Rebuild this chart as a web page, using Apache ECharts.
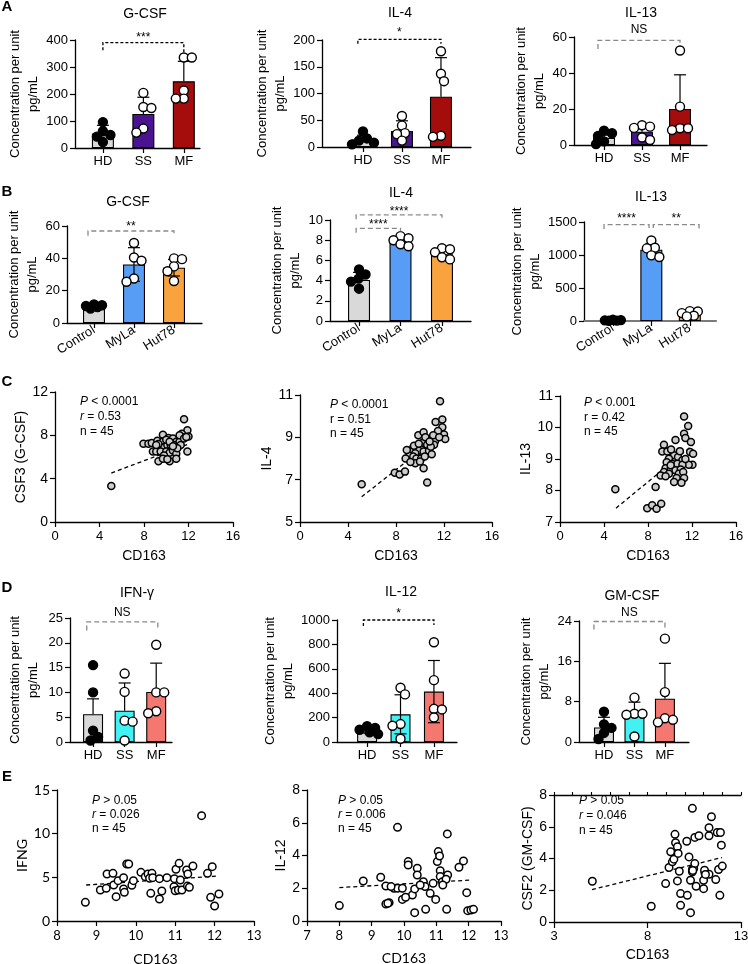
<!DOCTYPE html>
<html><head><meta charset="utf-8">
<script src="https://cdn.jsdelivr.net/npm/echarts@6/dist/echarts.min.js"></script>
<style>html,body{margin:0;padding:0;background:#fff}#c{width:748px;height:964px}</style>
</head><body><div id="c"></div>
<script>
// ================= DATA =================
// Row A (HD / SS / MF)
const aGroups = ['HD', 'SS', 'MF'];
const a1Mean = [54, 126, 247], a1Err = [30, 62, 74];
const a1Pts = [[96, 62, 48, 42, 22], [204, 152, 148, 72, 57], [335, 335, 213, 183, 183]];
const a2Mean = [14, 30, 94], a2Err = [8, 19, 73];
const a2Pts = [[29, 16, 12, 8, 5], [58, 40, 26, 24, 12], [179, 137, 123, 21, 19]];
const a3Mean = [4, 7.4, 20], a3Err = [1.5, 3.6, 19];
const a3Pts = [[8, 6.5, 5, 2, 0.5], [11, 10.2, 9.5, 4.2, 2.8], [52.5, 21.3, 9.3, 9.3, 8.3]];
// significance brackets: [x1, x2, yTop, yLeg1, yLeg2, label, yLabel]
const a1Sig = [[0, 2, 390, 362, 352, '***', 420]];
const a2Sig = [[-0.13, 2, 201, 193, 193, '*', 220]];
const a3Sig = [[-0.16, 2, 58.1, 53.3, 55.7, 'NS', 64]];

// Row B (cell lines)
const bGroups = ['Control', 'MyLa', 'Hut78'];
const b1Mean = [10.3, 36.2, 34.2], b1Err = [0.8, 10.4, 5.1];
const b1Pts = [[11.5, 11, 10.5, 9.8, 8.9], [49.5, 40.5, 38.5, 27.5, 25.5], [40, 39.5, 35, 32, 26]];
const b2Mean = [4.06, 7.9, 6.6], b2Err = [0.75, 0.35, 0.45];
const b2Pts = [[5.1, 4.6, 4.2, 3.9, 3.2], [8.4, 8.2, 8.0, 7.6, 7.4], [7.2, 7.1, 6.8, 6.3, 6.1]];
const b3Mean = [10, 1080, 110], b3Err = [3, 95, 40];
const b3Pts = [[18, 14, 10, 6, 3], [1220, 1110, 1100, 995, 970], [150, 145, 120, 80, 70]];
const b1Sig = [[-0.15, 2, 56.9, 54, 54.4, '**', 61.5]];
const b2Sig = [[-0.07, 1, 9.17, 8.75, 8.85, '****', 9.8], [-0.07, 2, 10.5, 10.07, 10.07, '****', 11.15]];
const b3Sig = [[-0.23, 0.94, 1459, 1393, 1409, '****', 1590], [1.05, 2.24, 1459, 1409, 1393, '**', 1590]];

// Row C (correlations with CD163)
const c1Pts = [[5.06,3.32],[11.6,9.48],[11.9,8.46],[11.4,8.15],[12.0,7.9],[11.4,7.85],[11.9,6.5],[7.95,7.23],[8.4,7.23],[8.7,7.3],[9.2,7.5],[9.7,8.06],[10.2,7.75],[10.6,7.7],[10.9,7.4],[9.7,7.4],[9.5,6.9],[9.8,6.9],[10.1,7.1],[10.4,7.1],[10.7,7.1],[11.2,7.4],[11.3,7.1],[8.8,6.5],[9.1,6.5],[9.5,6.5],[10.0,6.5],[10.3,6.4],[10.6,6.6],[10.9,6.3],[9.8,6.15],[9.3,5.6],[10.3,5.6],[9.7,5.85],[10.9,5.85],[11.0,6.8],[10.0,7.6],[10.3,7.4],[9.3,7.2],[11.2,8.0],[11.6,7.7],[10.6,7.0],[10.1,5.8],[9.1,7.1],[11.8,7.85]];
const c1Fit = [[5.06, 4.52], [12.0, 7.2]];
const c2Pts = [[5.14,6.78],[11.67,10.71],[11.3,9.73],[11.86,9.84],[11.86,9.48],[12.0,9.13],[12.1,8.92],[9.86,9.1],[10.3,9.24],[10.6,8.92],[11.0,8.92],[11.25,8.81],[11.17,8.65],[10.2,8.73],[10.6,8.65],[9.44,8.52],[9.9,8.37],[10.3,8.33],[10.75,8.37],[10.98,8.2],[9.2,8.33],[9.6,8.25],[9.1,8.13],[9.44,8.1],[8.8,8.0],[9.7,8.0],[10.1,8.0],[9.6,7.78],[10.0,7.86],[9.2,7.83],[10.3,7.54],[7.9,7.33],[8.3,7.25],[8.75,7.38],[10.6,6.87],[8.9,8.4],[10.45,9.0],[11.5,9.3],[10.9,8.55],[9.5,8.6],[11.1,9.1],[10.4,8.1],[9.9,8.7],[10.8,8.8],[11.6,9.0]];
const c2Fit = [[5.14, 6.19], [12.1, 9.3]];
const c3Pts = [[5.03,8.04],[7.93,7.44],[8.38,7.53],[8.78,7.42],[9.2,7.58],[8.69,8.11],[11.28,10.35],[11.65,10.05],[11.28,9.8],[11.4,9.67],[11.9,9.54],[10.5,9.6],[9.45,9.45],[9.3,9.24],[9.76,9.24],[11.83,9.22],[12.1,9.17],[12.04,8.82],[11.7,8.82],[10.37,9.12],[9.9,9.01],[10.73,9.06],[11.13,8.96],[9.7,8.9],[10.2,8.85],[10.67,8.85],[11.13,8.82],[9.6,8.71],[10.06,8.69],[10.5,8.64],[10.97,8.67],[9.45,8.59],[9.15,8.48],[9.9,8.53],[10.8,8.53],[11.2,8.59],[10.6,8.4],[11.28,8.4],[9.6,8.45],[10.37,8.27],[11.04,8.25],[10.06,8.8],[11.4,9.0],[10.1,9.3],[10.9,9.25]];
const c3Fit = [[5.09, 7.44], [12.1, 9.45]];

// Row D (HD / SS / MF)
const d1Mean = [5.6, 6.3, 10.1], d1Err = [3.1, 5.6, 5.8];
const d1Pts = [[15.5, 10, 2.3, 1, 0.3], [13.8, 10.1, 4.3, 4.1, 0.3], [19.6, 10, 10, 6.2, 5.8]];
const d2Mean = [98, 227, 413], d2Err = [25, 160, 255];
const d2Pts = [[130, 115, 100, 80, 65], [445, 390, 147, 133, 27], [818, 507, 272, 267, 201]];
const d3Mean = [2.9, 5.3, 8.6], d3Err = [2.0, 2.6, 7.0];
const d3Pts = [[6, 3.5, 2.8, 1.8, 0.6], [8.8, 5.6, 5.6, 5.4, 1.1], [20.5, 9.9, 4.7, 4.4, 3.9]];
const d1Sig = [[-0.2, 2.05, 24.2, 22.5, 23, 'NS', 26]];
const d2Sig = [[-0.11, 2, 1000, 950, 960, '*', 1075]];
const d3Sig = [[-0.33, 2, 23.9, 22.3, 22.5, 'NS', 25.6]];

// Row E (correlations with CD163)
const e1Pts = [[8.72,2.14],[9.1,3.55],[9.27,5.38],[9.25,3.74],[9.42,5.46],[9.44,4.12],[9.5,2.79],[9.55,4.62],[9.69,4.96],[9.69,3.66],[9.71,3.28],[9.77,6.53],[9.82,6.53],[9.9,4.08],[9.94,4.62],[10.13,5.57],[10.24,5.08],[10.31,5.38],[10.41,5.46],[10.35,4.89],[10.43,4.96],[10.38,3.17],[10.6,4.85],[10.6,2.52],[10.66,3.44],[10.79,4.96],[10.98,4.85],[11.02,5.92],[11.1,6.6],[10.97,3.93],[11.0,3.47],[11.08,3.55],[11.13,4.69],[11.17,3.55],[11.29,5.84],[11.32,5.38],[11.31,4.0],[11.36,3.86],[11.45,6.3],[11.67,12.06],[11.82,5.46],[11.94,6.22],[11.9,2.71],[12.0,1.72],[12.11,3.09]];
const e1Fit = [[8.74, 4.12], [12.1, 5.15]];
const e2Pts = [[8.0,0.94],[8.74,2.44],[9.28,2.67],[9.44,2.14],[9.44,1.04],[9.54,1.12],[9.69,2.0],[9.8,2.0],[9.8,5.72],[9.95,2.0],[9.95,1.32],[10.13,3.63],[10.13,3.42],[10.26,1.59],[10.33,1.96],[10.33,0.51],[10.41,3.22],[10.41,2.81],[10.6,2.4],[10.65,2.1],[10.67,0.71],[10.81,1.69],[10.98,1.32],[11.03,3.63],[11.06,4.24],[11.1,3.97],[11.12,3.07],[11.12,2.71],[11.19,2.4],[11.32,0.71],[11.34,5.32],[11.35,2.81],[11.3,2.55],[11.7,3.28],[11.84,3.67],[11.94,1.73],[11.97,0.63],[12.07,0.67],[12.15,0.71],[9.6,2.1],[10.05,1.45],[10.5,2.2],[10.9,2.3],[11.2,2.2],[9.5,1.08]];
const e2Fit = [[8.0, 2.04], [12.07, 2.5]];
const e3Pts = [[5.05,2.57],[8.2,0.99],[8.97,2.42],[9.24,4.42],[9.15,3.43],[9.33,3.79],[9.41,3.96],[9.47,5.52],[9.5,4.99],[9.6,4.74],[9.64,4.32],[9.6,2.59],[9.77,1.79],[9.77,1.05],[10.1,5.09],[10.13,1.68],[10.22,4.1],[10.3,0.59],[10.3,2.63],[10.4,7.16],[10.4,3.31],[10.4,3.16],[10.47,3.37],[10.53,3.68],[10.53,5.33],[10.75,5.43],[10.6,2.25],[11.07,3.1],[11.0,2.63],[11.05,3.26],[11.0,2.1],[11.29,5.43],[11.29,5.94],[11.29,3.01],[11.42,6.63],[11.65,2.67],[11.73,5.64],[11.9,5.64],[11.8,3.31],[11.87,1.68],[11.95,4.84],[12.0,3.52],[9.7,3.2],[10.42,3.25],[11.1,3.0]];
const e3Fit = [[5.03, 2.04], [11.98, 4.06]];

// ================= STYLE / LAYOUT =================
const FONT = "'Liberation Sans', Arial, sans-serif";
const GRAY = '#d9d9d9', PURPLE = '#4a1490', DRED = '#a50d0d', BLUE = '#579cf5',
      ORANGE = '#f8a33e', CYAN = '#42f2f2', SALMON = '#f47870';
const option = { animation: false, backgroundColor: '#fff', grid: [], xAxis: [], yAxis: [], series: [], graphic: [] };
const plain = v => String(v);

function txt(x, y, text, o) {
  o = o || {};
  const st = {
    text: text, fill: '#000',
    font: (o.italic ? 'italic ' : '') + (o.bold ? 'bold ' : '') + (o.size || 13) + 'px ' + (o.family || FONT),
    textAlign: o.align || 'center', align: o.align || 'center',
    textVerticalAlign: 'middle', verticalAlign: 'middle'
  };
  if (o.rich) st.rich = o.rich;
  option.graphic.push({ type: 'text', x: x, y: y, silent: true, z: 100, style: st });
}

function lineAxis(color, width) {
  return { show: true, onZero: false, lineStyle: { color: color || '#000', width: width || 1.3 } };
}

// simple beeswarm: x offsets (in data units) so that dots do not pile up
function jitter(vals, pxY, pxX, d, maxHalf) {
  const idx = vals.map((v, i) => i).sort((a, b) => vals[b] - vals[a]);
  const placed = [], off = new Array(vals.length).fill(0);
  let sum = 0;
  for (const i of idx) {
    const y = vals[i] * pxY;
    const s = sum > 0 ? -1 : 1;
    let best = 0, bestScore = -1;
    for (let m = 0; m <= maxHalf; m += 0.5) {
      let found = false;
      for (const cand of (m === 0 ? [0] : [m * s, -m * s])) {
        let md = Infinity;
        for (const p of placed) md = Math.min(md, Math.hypot(p[0] - cand, p[1] - y));
        if (md >= d) { best = cand; found = true; break; }
        if (md > bestScore) { bestScore = md; best = cand; }
      }
      if (found) break;
    }
    placed.push([best, y]); sum += best; off[i] = best / pxX;
  }
  return off;
}

function barPanel(c) {
  const gi = option.grid.length;
  option.grid.push({ left: c.box[0], top: c.box[1], width: c.box[2], height: c.box[3], containLabel: false, outerBoundsMode: 'none' });
  const xi = option.xAxis.length, yi = option.yAxis.length;
  option.xAxis.push({
    gridIndex: gi, type: 'value', min: c.xr[0], max: c.xr[1],
    axisLine: lineAxis(c.xColor, c.xWidth),
    axisTick: { show: true, customValues: [0, 1, 2], length: 5, lineStyle: { color: '#000', width: 1.2 } },
    axisLabel: { customValues: [0, 1, 2], formatter: v => c.cats[Math.round(v)], color: '#000', fontFamily: FONT, fontSize: 13, rotate: c.rotate || 0, margin: c.rotate ? 6 : 7 },
    splitLine: { show: false }
  });
  option.yAxis.push({
    gridIndex: gi, type: 'value', min: c.yr[0], max: c.yr[1], interval: c.yr[2],
    axisLine: lineAxis(), axisTick: { show: true, length: 5, lineStyle: { color: '#000', width: 1.2 } },
    axisLabel: { color: '#000', fontFamily: FONT, fontSize: 13, margin: 7, formatter: plain },
    splitLine: { show: false },
    name: 'Concentration per unit\npg/mL', nameLocation: 'middle', nameGap: c.nameGap,
    nameTextStyle: { color: '#000', fontFamily: FONT, fontSize: 13, lineHeight: 18 }
  });
  option.series.push({
    type: 'bar', xAxisIndex: xi, yAxisIndex: yi, barWidth: c.barW, silent: true, z: 2,
    data: c.means.map((m, i) => ({ value: [i, m], itemStyle: { color: c.fills[i] } })),
    itemStyle: { borderColor: '#000', borderWidth: 1.1 }
  });
  option.series.push({
    type: 'custom', xAxisIndex: xi, yAxisIndex: yi, silent: true, z: 3, clip: false,
    data: c.means.map((m, i) => [i, m, c.errs[i]]),
    encode: { x: 0, y: 1 },
    renderItem: (p, api) => {
      const x = api.value(0), m = api.value(1), e = api.value(2);
      const t = api.coord([x, m + e]), b = api.coord([x, c.twoSided ? m - e : m]);
      const st = { stroke: '#000', lineWidth: 1.2 };
      const ch = [
        { type: 'line', shape: { x1: t[0], y1: t[1], x2: b[0], y2: b[1] }, style: st },
        { type: 'line', shape: { x1: t[0] - 6, y1: t[1], x2: t[0] + 6, y2: t[1] }, style: st }
      ];
      if (c.twoSided) ch.push({ type: 'line', shape: { x1: b[0] - 6, y1: b[1], x2: b[0] + 6, y2: b[1] }, style: st });
      return { type: 'group', children: ch };
    }
  });
  const pxY = c.box[3] / (c.yr[1] - c.yr[0]), pxX = c.box[2] / (c.xr[1] - c.xr[0]);
  const data = [];
  c.pts.forEach((arr, g) => {
    const off = jitter(arr, pxY, pxX, 8, 11);
    arr.forEach((v, k) => data.push({ value: [g + off[k], v], itemStyle: { color: c.ptFill[g] } }));
  });
  option.series.push({
    type: 'scatter', xAxisIndex: xi, yAxisIndex: yi, symbol: 'circle', symbolSize: 9, silent: true, z: 4,
    data: data, itemStyle: { borderColor: '#000', borderWidth: 1.4, opacity: 1 }
  });
  option.series.push({
    type: 'custom', xAxisIndex: xi, yAxisIndex: yi, silent: true, z: 5, clip: false,
    data: c.sig.map(s => [s[0], s[2]]), encode: { x: 0, y: 1 },
    renderItem: (p, api) => {
      const s = c.sig[p.dataIndex];
      const a = api.coord([s[0], s[3]]), b = api.coord([s[0], s[2]]), d = api.coord([s[1], s[2]]), e = api.coord([s[1], s[4]]);
      const t = api.coord([(s[0] + s[1]) / 2, s[6]]);
      const star = s[5].indexOf('*') >= 0;
      return { type: 'group', children: [
        { type: 'polyline', shape: { points: [a, b, d, e] },
          style: { stroke: c.sigColor, lineWidth: 1.3, fill: null, lineDash: c.sigDash } },
        { type: 'text', x: t[0], y: t[1] + (star ? 3 : 0),
          style: { text: s[5], fill: '#000', font: '12px ' + FONT,
                   align: 'center', verticalAlign: 'middle', textAlign: 'center', textVerticalAlign: 'middle' } }
      ] };
    }
  });
  txt(c.title[0], c.title[1], c.title[2], { size: 14 });
}

function scatterPanel(c) {
  const gi = option.grid.length;
  option.grid.push({ left: c.box[0], top: c.box[1], width: c.box[2], height: c.box[3], containLabel: false, outerBoundsMode: 'none' });
  const fam = c.family || FONT;
  const xi = option.xAxis.length, yi = option.yAxis.length;
  const xa = {
    gridIndex: gi, type: 'value', min: c.xr[0], max: c.xr[1],
    axisLine: lineAxis(), axisTick: { show: true, length: 5, lineStyle: { color: '#000', width: 1.2 } },
    axisLabel: { color: '#000', fontFamily: fam, fontSize: 13, margin: 8, formatter: plain },
    splitLine: { show: false },
    name: 'CD163', nameLocation: 'middle', nameGap: c.xGap,
    nameTextStyle: { color: '#000', fontFamily: fam, fontSize: 14 }
  };
  if (c.xCustom) { xa.axisTick.customValues = c.xCustom; xa.axisLabel.customValues = c.xCustom; xa.axisTick.length = 6; }
  else xa.interval = c.xr[2];
  option.xAxis.push(xa);
  if (c.xMinor) {
    option.xAxis.push({
      gridIndex: gi, type: 'value', min: c.xr[0], max: c.xr[1],
      axisLine: lineAxis(), axisTick: { show: true, customValues: c.xMinor, length: 3, lineStyle: { color: '#000', width: 1.1 } },
      axisLabel: { show: false }, splitLine: { show: false }
    });
  }
  const ya = {
    gridIndex: gi, type: 'value', min: c.yr[0], max: c.yr[1],
    axisLine: lineAxis(), axisTick: { show: true, length: 5, lineStyle: { color: '#000', width: 1.2 } },
    axisLabel: { color: '#000', fontFamily: c.yFamily || FONT, fontSize: 14, margin: 7, formatter: plain },
    splitLine: { show: false },
    name: c.yName, nameLocation: 'middle', nameGap: c.yGap,
    nameTextStyle: { color: '#000', fontFamily: c.yFamily || FONT, fontSize: 14 }
  };
  if (c.yCustom) { ya.axisTick.customValues = c.yCustom; ya.axisLabel.customValues = c.yCustom; }
  else ya.interval = c.yr[2];
  option.yAxis.push(ya);
  option.series.push({
    type: 'line', xAxisIndex: xi, yAxisIndex: yi, data: c.fit, symbol: 'none', silent: true, z: 1,
    lineStyle: { color: '#000', width: 1.3, type: [4, 3] }
  });
  option.series.push({
    type: 'scatter', xAxisIndex: xi, yAxisIndex: yi, data: c.pts, symbol: 'circle', symbolSize: c.size, silent: true, z: 3,
    itemStyle: { color: c.fill, borderColor: '#000', borderWidth: 1.5, opacity: 1 }
  });
  const rich = { i: { fontStyle: 'italic', fontSize: 12, fontFamily: FONT, fill: '#000', color: '#000' },
                 n: { fontSize: 12, fontFamily: FONT, fill: '#000', color: '#000' } };
  c.notes.forEach((s, k) => txt(c.note[0], c.note[1] + k * c.note[2], s, { align: 'left', size: 12, rich: rich }));
}

// ---------- Row A ----------
barPanel({ box: [75, 40, 125, 108], xr: [-0.69, 2.4], yr: [0, 400, 100], cats: aGroups, means: a1Mean, errs: a1Err, pts: a1Pts,
  fills: [GRAY, PURPLE, DRED], ptFill: ['#000', '#fff', '#fff'], barW: 22, nameGap: 21, sig: a1Sig, sigColor: '#000', sigDash: [3, 2],
  title: [145, 14, 'G-CSF'] });
barPanel({ box: [322, 40, 149, 107], xr: [-1.05, 2.77], yr: [0, 200, 50], cats: aGroups, means: a2Mean, errs: a2Err, pts: a2Pts,
  fills: [GRAY, PURPLE, DRED], ptFill: ['#000', '#fff', '#fff'], barW: 22, nameGap: 11, sig: a2Sig, sigColor: '#000', sigDash: [3, 2],
  title: [400, 13, 'IL-4'] });
barPanel({ box: [574, 37, 133, 108], xr: [-0.79, 2.71], yr: [0, 60, 20], cats: aGroups, means: a3Mean, errs: a3Err, pts: a3Pts,
  fills: [GRAY, PURPLE, DRED], ptFill: ['#000', '#fff', '#fff'], barW: 22, nameGap: 18, sig: a3Sig, sigColor: '#8a8a8a', sigDash: [5, 3],
  title: [641, 13, 'IL-13'] });
// ---------- Row B ----------
barPanel({ box: [67, 226, 135, 97], xr: [-0.675, 2.7], yr: [0, 60, 20], cats: bGroups, means: b1Mean, errs: b1Err, pts: b1Pts,
  fills: [GRAY, BLUE, ORANGE], ptFill: ['#000', '#fff', '#fff'], barW: 22, nameGap: 20, sig: b1Sig, sigColor: '#8a8a8a', sigDash: [5, 3],
  rotate: 32, twoSided: true, title: [128, 202, 'G-CSF'] });
barPanel({ box: [330, 220, 141, 101], xr: [-0.7, 2.7], yr: [0, 10, 2], cats: bGroups, means: b2Mean, errs: b2Err, pts: b2Pts,
  fills: [GRAY, BLUE, ORANGE], ptFill: ['#000', '#fff', '#fff'], barW: 22, nameGap: 21, sig: b2Sig, sigColor: '#8a8a8a', sigDash: [5, 3],
  rotate: 32, title: [401, 193, 'IL-4'] });
barPanel({ box: [584, 222, 132, 99], xr: [-0.75, 2.68], yr: [0, 1500, 500], cats: bGroups, means: b3Mean, errs: b3Err, pts: b3Pts,
  fills: [GRAY, BLUE, ORANGE], ptFill: ['#000', '#fff', '#fff'], barW: 22, nameGap: 26, sig: b3Sig, sigColor: '#8a8a8a', sigDash: [5, 3],
  rotate: 32, xColor: '#7a7a7a', xWidth: 2.2, title: [651, 197, 'IL-13'] });
// ---------- Row C ----------
scatterPanel({ box: [55, 392, 178, 130], xr: [0, 16, 4], yr: [0, 12, 4], yName: 'CSF3 (G-CSF)', yGap: 20, xGap: 27,
  pts: c1Pts, fit: c1Fit, fill: '#cdcdcd', size: 7, note: [80, 402, 15],
  notes: ['{i|P}{n| < 0.0001}', '{i|r}{n| = 0.53}', '{n|n = 45}'] });
scatterPanel({ box: [300, 395, 192, 127], xr: [0, 16, 4], yr: [5, 11], yCustom: [5, 7, 9, 11], yName: 'IL-4', yGap: 23, xGap: 27,
  pts: c2Pts, fit: c2Fit, fill: '#cdcdcd', size: 7, note: [330, 405, 14.5],
  notes: ['{i|P}{n| < 0.0001}', '{n|r = 0.51}', '{n|n = 45}'] });
scatterPanel({ box: [560, 396, 176, 126], xr: [0, 16, 4], yr: [7, 11, 1], yName: 'IL-13', yGap: 23, xGap: 27,
  pts: c3Pts, fit: c3Fit, fill: '#cdcdcd', size: 7, note: [584, 403, 14.5],
  notes: ['{i|P}{n| < 0.001}', '{n|r = 0.42}', '{n|n = 45}'] });
// ---------- Row D ----------
barPanel({ box: [70, 618, 102, 124], xr: [-0.73, 2.5], yr: [0, 25, 5], cats: aGroups, means: d1Mean, errs: d1Err, pts: d1Pts,
  fills: [GRAY, CYAN, SALMON], ptFill: ['#000', '#fff', '#fff'], barW: 20, nameGap: 28, sig: d1Sig, sigColor: '#8a8a8a', sigDash: [5, 3],
  title: [137, 593, 'IFN-γ'] });
barPanel({ box: [337, 620, 120, 122], xr: [-0.9, 2.69], yr: [0, 1000, 200], cats: aGroups, means: d2Mean, errs: d2Err, pts: d2Pts,
  fills: [GRAY, CYAN, SALMON], ptFill: ['#000', '#fff', '#fff'], barW: 20, nameGap: 28, sig: d2Sig, sigColor: '#000', sigDash: [3, 2],
  twoSided: true, title: [401, 592, 'IL-12'] });
barPanel({ box: [579, 621, 110, 121], xr: [-0.82, 2.79], yr: [0, 24, 8], cats: aGroups, means: d3Mean, errs: d3Err, pts: d3Pts,
  fills: [GRAY, CYAN, SALMON], ptFill: ['#000', '#fff', '#fff'], barW: 20, nameGap: 23, sig: d3Sig, sigColor: '#8a8a8a', sigDash: [5, 3],
  title: [632, 596, 'GM-CSF'] });
// ---------- Row E ----------
scatterPanel({ box: [57, 790, 197, 131], xr: [8, 13, 1], yr: [0, 15, 5], yName: 'IFNG', yGap: 28, xGap: 31, family: "Lato, " + FONT, yFamily: "Lato, " + FONT,
  pts: e1Pts, fit: e1Fit, fill: '#fff', size: 7.5, note: [92, 801, 14],
  notes: ['{i|P}{n| > 0.05}', '{i|r}{n| = 0.026}', '{n|n = 45}'] });
scatterPanel({ box: [307, 790, 194, 131], xr: [7, 13, 1], yr: [0, 8, 2], yName: 'IL-12', yGap: 18, xGap: 30, family: "Lato, " + FONT,
  pts: e2Pts, fit: e2Fit, fill: '#fff', size: 7.5, note: [338, 801, 14],
  notes: ['{i|P}{n| > 0.05}', '{i|r}{n| = 0.006}', '{n|n = 45}'] });
scatterPanel({ box: [554, 795, 187, 127], xr: [3, 13], xCustom: [3, 8, 13], xMinor: [3, 4, 5, 6, 7, 8, 9, 10, 11, 12, 13],
  yr: [0, 8, 2], yName: 'CSF2 (GM-CSF)', yGap: 18, xGap: 26,
  pts: e3Pts, fit: e3Fit, fill: '#fff', size: 7.5, note: [579, 801, 15],
  notes: ['{i|P}{n| > 0.05}', '{i|r}{n| = 0.046}', '{n|n = 45}'] });

// panel letters
[['A', 7], ['B', 192], ['C', 382], ['D', 588], ['E', 777]].forEach(l => txt(7, l[1], l[0], { bold: true, size: 15 }));

const chart = echarts.init(document.getElementById('c'), null, { renderer: 'canvas' });
chart.setOption(option);
</script>
</body></html>
